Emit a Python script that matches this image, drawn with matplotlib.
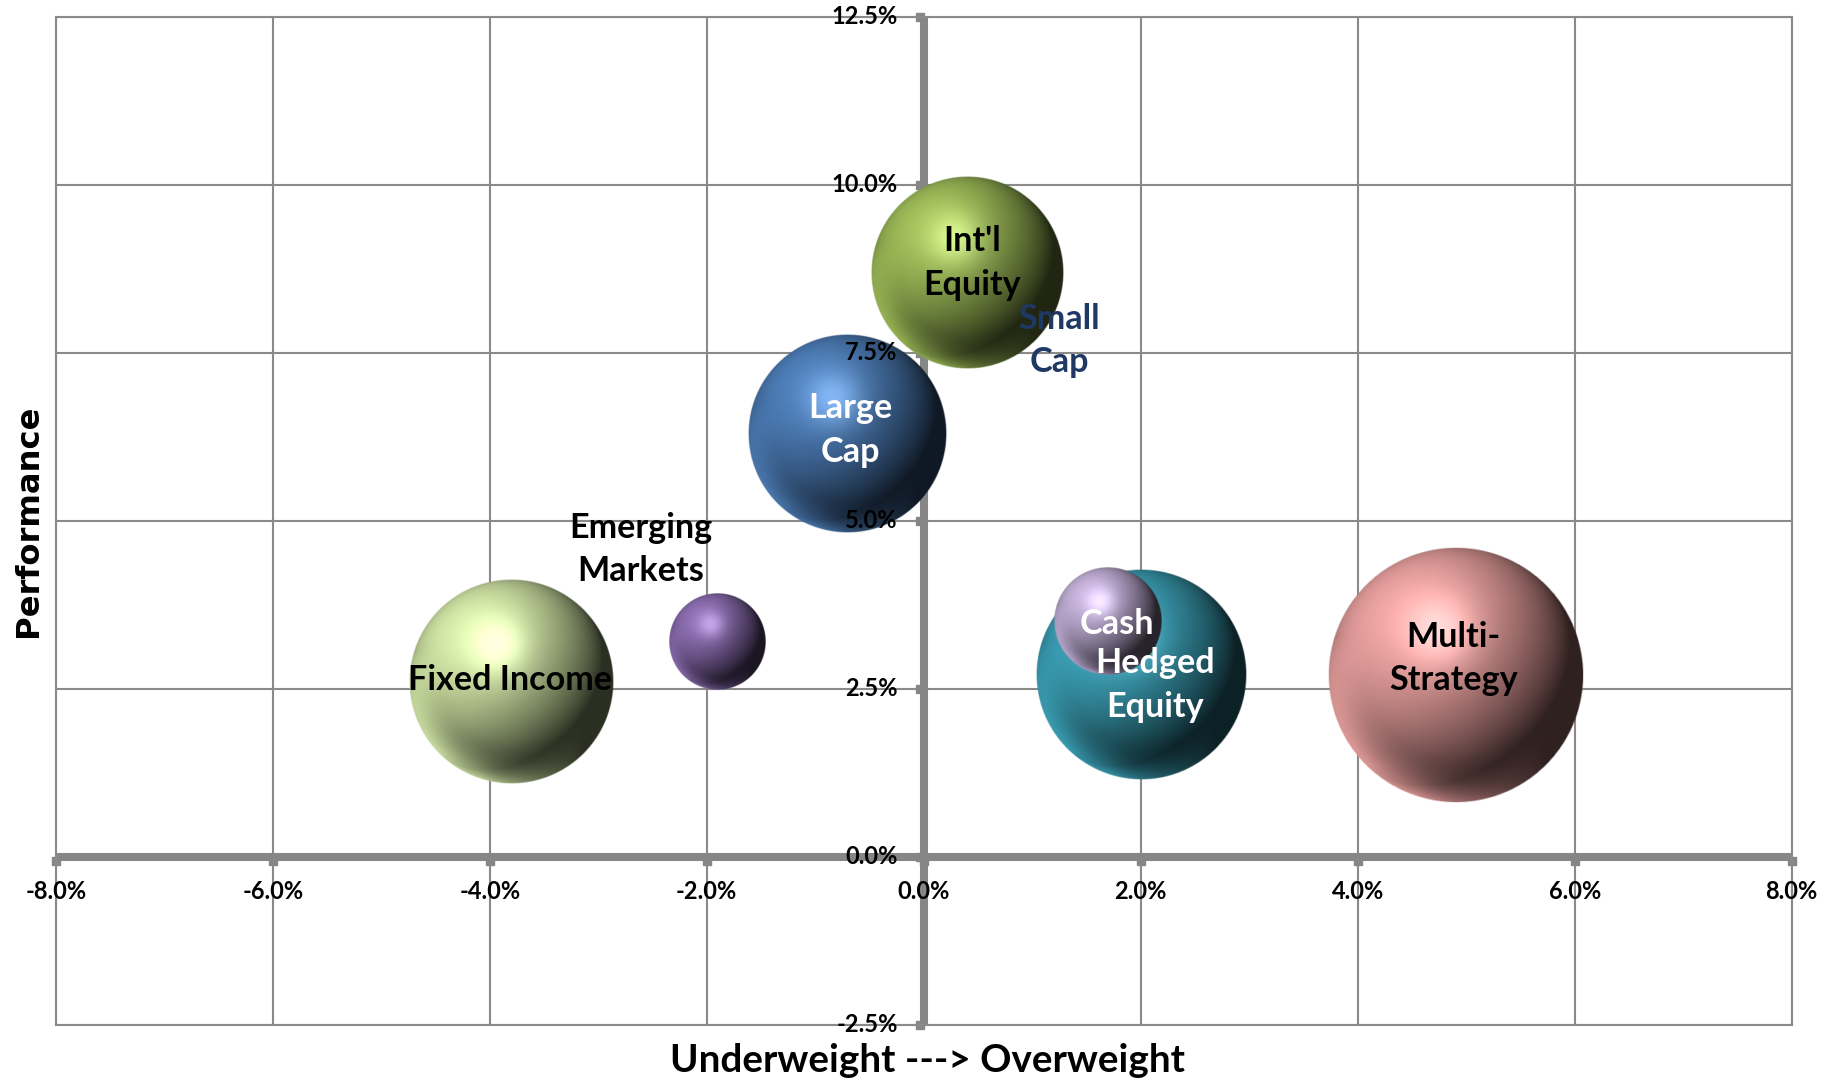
# -*- coding: utf-8 -*-
"""
Blasendiagramm: Über-/Untergewichtung der Anlageklassen gegen ihre Performance.
Die Blasen werden als schattierte Kugeln (wie im Excel-3D-Stil) gezeichnet
und als out.png gespeichert.
"""

import numpy as np
import matplotlib
matplotlib.use("Agg")
import matplotlib.pyplot as plt
from matplotlib.colors import to_rgb
from matplotlib.transforms import offset_copy

# Daten (Gewichtung und Performance in %, Größe = Blasenfläche)
KATEGORIEN = ["Multi-Strategy", "Hedged Equity", "Fixed Income", "Large Cap",
              "Int'l Equity", "Cash", "Emerging Markets", "Small Cap"]
GEWICHTUNG = [4.9, 2.0, -3.8, -0.7, 0.4, 1.7, -1.9, 1.25]
PERFORMANCE = [2.7, 2.7, 2.6, 6.3, 8.7, 3.5, 3.2, 7.7]
GROESSE = [14, 9.5, 9, 8.5, 8, 2.5, 2, 0]
FARBEN = ["#D99694", "#3898AD", "#C4D79B", "#4774AA",
          "#93AF52", "#B3A2C7", "#8064A2", "#1F3864"]

# Beschriftungen der Blasen
LABEL_TEXTE = ["Multi-\nStrategy", "Hedged\nEquity", "Fixed Income", "Large\nCap",
               "Int'l\nEquity", "Cash", "Emerging\nMarkets", "Small\nCap"]
LABEL_X = [4.88, 2.13, -3.81, -0.68, 0.45, 1.78, -2.61, 1.25]
LABEL_Y = [2.95, 2.56, 2.63, 6.35, 8.83, 3.47, 4.57, 7.68]
LABEL_FARBEN = ["black", "white", "black", "white",
                "black", "white", "black", "#1F3864"]

X_TICKS = [-8, -6, -4, -2, 0, 2, 4, 6, 8]
Y_TICKS = [-2.5, 0, 2.5, 5, 7.5, 10, 12.5]

OUTPUT_FILENAME = "out.png"
BUBBLE_SCALE_PX = 34.1   # Pixelradius pro Wurzel der Größeneinheit
GRID_FARBE = "#8A8A8A"
ACHSEN_FARBE = "#868686"


def kugel_bild(farbe: str, n: int = 300) -> np.ndarray:
    """Erzeugt ein RGBA-Bild einer schattierten Kugel in der gegebenen Farbe."""
    basis = np.array(to_rgb(farbe))
    yy, xx = np.mgrid[-1:1:n * 1j, -1:1:n * 1j]   # yy: oben -1, unten +1
    d2 = xx ** 2 + yy ** 2
    d = np.sqrt(d2)
    z = np.sqrt(np.clip(1 - d2, 0, 1))

    # diffuses Licht von links oben
    licht = np.array([-0.45, 0.5, 0.74])
    licht /= np.linalg.norm(licht)
    diffus = np.clip(xx * licht[0] - yy * licht[1] + z * licht[2], 0, 1)

    # weicher Glanzpunkt oberhalb der Mitte
    glanz = np.exp(-((xx + 0.13) ** 2 + (yy + 0.35) ** 2) / (2 * 0.2 ** 2))

    # heller Reflex am unteren Rand
    rand = np.clip((d - 0.65) / 0.35, 0, 1) ** 2 * np.clip(yy + 0.3, 0, 1) * np.clip(0.7 - xx, 0, 1)

    rgb = basis * (0.22 + 0.88 * diffus)[..., None]
    rgb = rgb + glanz[..., None] * (0.2 + 0.1 * basis)
    rgb = rgb + rand[..., None] * basis * 0.75
    rgb = np.clip(rgb, 0, 1)

    alpha = np.clip((1 - d) * n / 2, 0, 1)
    return np.dstack([rgb, alpha])


def plot_and_save(filename: str):
    plt.rcParams["font.family"] = ["Lato", "DejaVu Sans"]
    plt.rcParams["font.weight"] = "bold"

    fig = plt.figure(figsize=(18.35, 10.79), dpi=100)
    ax = fig.add_axes([0.03035, 0.05033, 0.94605, 0.93420])
    ax.set_xlim(X_TICKS[0], X_TICKS[-1])
    ax.set_ylim(Y_TICKS[0], Y_TICKS[-1])

    # Gitter und Rahmen
    ax.set_xticks(X_TICKS)
    ax.set_yticks(Y_TICKS)
    ax.grid(True, color=GRID_FARBE, linewidth=1.5, zorder=1)
    ax.tick_params(length=0, labelbottom=False, labelleft=False)
    for spine in ax.spines.values():
        spine.set_color(GRID_FARBE)
        spine.set_linewidth(1.5)
    ax.set_axisbelow(True)

    # dicke Nulllinien mit kleinen Teilstrichen
    ax.axhline(0, color=ACHSEN_FARBE, linewidth=5.8, zorder=2, solid_capstyle="butt")
    ax.axvline(0, color=ACHSEN_FARBE, linewidth=5.8, zorder=2, solid_capstyle="butt")
    unten = offset_copy(ax.transData, fig=fig, x=0, y=-4, units="dots")
    links = offset_copy(ax.transData, fig=fig, x=-4, y=0, units="dots")
    ax.plot(X_TICKS, [0] * len(X_TICKS), ls="none", marker="s", ms=5.5,
            color=ACHSEN_FARBE, transform=unten, zorder=2, clip_on=False)
    ax.plot([0] * len(Y_TICKS), Y_TICKS, ls="none", marker="s", ms=5.5,
            color=ACHSEN_FARBE, transform=links, zorder=2, clip_on=False)

    # Umrechnung Pixel -> Dateneinheiten
    p0 = ax.transData.transform((0, 0))
    p1 = ax.transData.transform((1, 1))
    px_x, px_y = p1[0] - p0[0], p1[1] - p0[1]

    # Blasen (größte zuerst, damit kleine obenauf liegen)
    for x, y, s, farbe in zip(GEWICHTUNG, PERFORMANCE, GROESSE, FARBEN):
        if s <= 0:
            continue
        r = BUBBLE_SCALE_PX * np.sqrt(s)
        rx, ry = r / px_x, r / px_y
        ax.imshow(kugel_bild(farbe), extent=(x - rx, x + rx, y - ry, y + ry),
                  origin="upper", interpolation="bilinear", zorder=3, aspect="auto")

    ax.set_xlim(X_TICKS[0], X_TICKS[-1])
    ax.set_ylim(Y_TICKS[0], Y_TICKS[-1])
    ax.set_aspect("auto")

    # Achsenbeschriftungen an den Nulllinien
    for xt in X_TICKS:
        ax.annotate(f"{xt:.1f}%", (xt, 0), xytext=(0, -35), textcoords="offset pixels",
                    ha="center", va="center", fontsize=17, zorder=4, annotation_clip=False)
    for yt in Y_TICKS:
        ax.annotate(f"{yt:.1f}%", (0, yt), xytext=(-26, 0), textcoords="offset pixels",
                    ha="right", va="center", fontsize=17, zorder=4, annotation_clip=False)

    # Blasenbeschriftungen
    for text, x, y, farbe in zip(LABEL_TEXTE, LABEL_X, LABEL_Y, LABEL_FARBEN):
        ax.text(x, y, text, ha="center", va="center", fontsize=24.6, color=farbe,
                linespacing=1.45, zorder=5)

    fig.text(927 / 1835, 1 - 1061 / 1079, "Underweight ---> Overweight",
             ha="center", va="center", fontsize=27.8)
    fig.text(28 / 1835, 1 - 521 / 1079, "Performance", rotation=90,
             ha="center", va="center", fontsize=23.2, family="DejaVu Sans")

    fig.savefig(filename, dpi=100)


def main():
    plot_and_save(OUTPUT_FILENAME)


if __name__ == "__main__":
    main()
